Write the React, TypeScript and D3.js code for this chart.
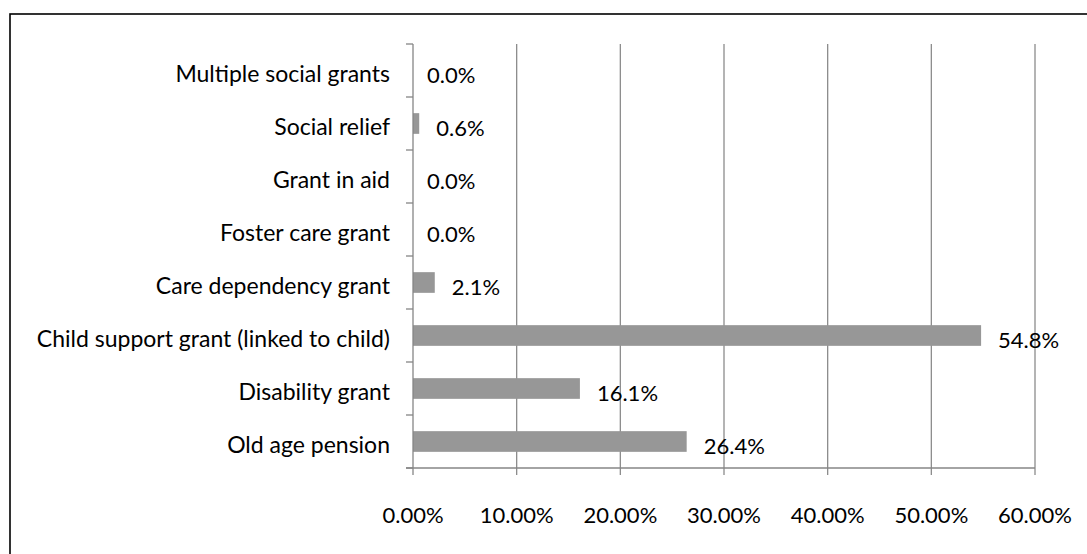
import React from 'react';
import * as d3 from 'd3';

const categories = [
  'Multiple social grants',
  'Social relief',
  'Grant in aid',
  'Foster care grant',
  'Care dependency grant',
  'Child support grant (linked to child)',
  'Disability grant',
  'Old age pension',
];
const values = [0.0, 0.6, 0.0, 0.0, 2.1, 54.8, 16.1, 26.4];
const xTicks = [0, 10, 20, 30, 40, 50, 60];

const W = 1087;
const H = 554;
const margin = { top: 44, left: 413, right: 52, bottom: 86 };
const FONT = 'Lato, "Open Sans", sans-serif';

const App: React.FC = () => {
  const x = d3.scaleLinear().domain([0, 60]).range([margin.left, W - margin.right]);
  const y = d3
    .scaleBand<string>()
    .domain(categories)
    .range([margin.top, H - margin.bottom])
    .paddingInner(0.61)
    .paddingOuter(0.305);
  const step = y.step();
  const axisY = H - margin.bottom;

  return (
    <svg
      width={W}
      height={H}
      style={{ position: 'absolute', left: 0, top: 0, background: '#fff' }}
      fontFamily={FONT}
    >
      <rect x={10} y={14} width={W + 20} height={H + 20} fill="#fff" stroke="#000" strokeWidth={1.6} />

      {/* vertical gridlines */}
      {xTicks.slice(1).map(t => (
        <line key={t} x1={x(t)} x2={x(t)} y1={margin.top} y2={axisY + 7} stroke="#8c8c8c" strokeWidth={1.3} />
      ))}

      {/* bars */}
      {categories.map((c, i) => (
        <rect
          key={c}
          x={x(0)}
          y={y(c)}
          width={x(values[i]) - x(0)}
          height={y.bandwidth()}
          fill="#979797"
        />
      ))}

      {/* y axis */}
      <line x1={x(0)} x2={x(0)} y1={margin.top} y2={axisY + 7} stroke="#868686" strokeWidth={1.3} />
      {d3.range(categories.length + 1).map(i => (
        <line
          key={i}
          x1={x(0) - 7}
          x2={x(0)}
          y1={margin.top + i * step}
          y2={margin.top + i * step}
          stroke="#868686"
          strokeWidth={1.3}
        />
      ))}

      {/* x axis */}
      <line x1={x(0) - 7} x2={x(60)} y1={axisY} y2={axisY} stroke="#868686" strokeWidth={1.3} />

      {/* category labels */}
      {categories.map(c => (
        <text
          key={c}
          x={390}
          y={(y(c) ?? 0) + y.bandwidth() / 2 + 3}
          dy="0.36em"
          textAnchor="end"
          fontSize={23}
          fill="#000"
        >
          {c}
        </text>
      ))}

      {/* value labels */}
      {categories.map((c, i) => (
        <text
          key={c}
          x={x(values[i]) + (values[i] === 0 ? 14 : 17)}
          y={(y(c) ?? 0) + y.bandwidth() / 2 + 5}
          dy="0.36em"
          fontSize={22}
          fill="#000"
        >
          {values[i].toFixed(1)}%
        </text>
      ))}

      {/* x tick labels */}
      {xTicks.map(t => (
        <text key={t} x={x(t)} y={523} textAnchor="middle" fontSize={22} fill="#000">
          {t.toFixed(2)}%
        </text>
      ))}
    </svg>
  );
};

export default App;
